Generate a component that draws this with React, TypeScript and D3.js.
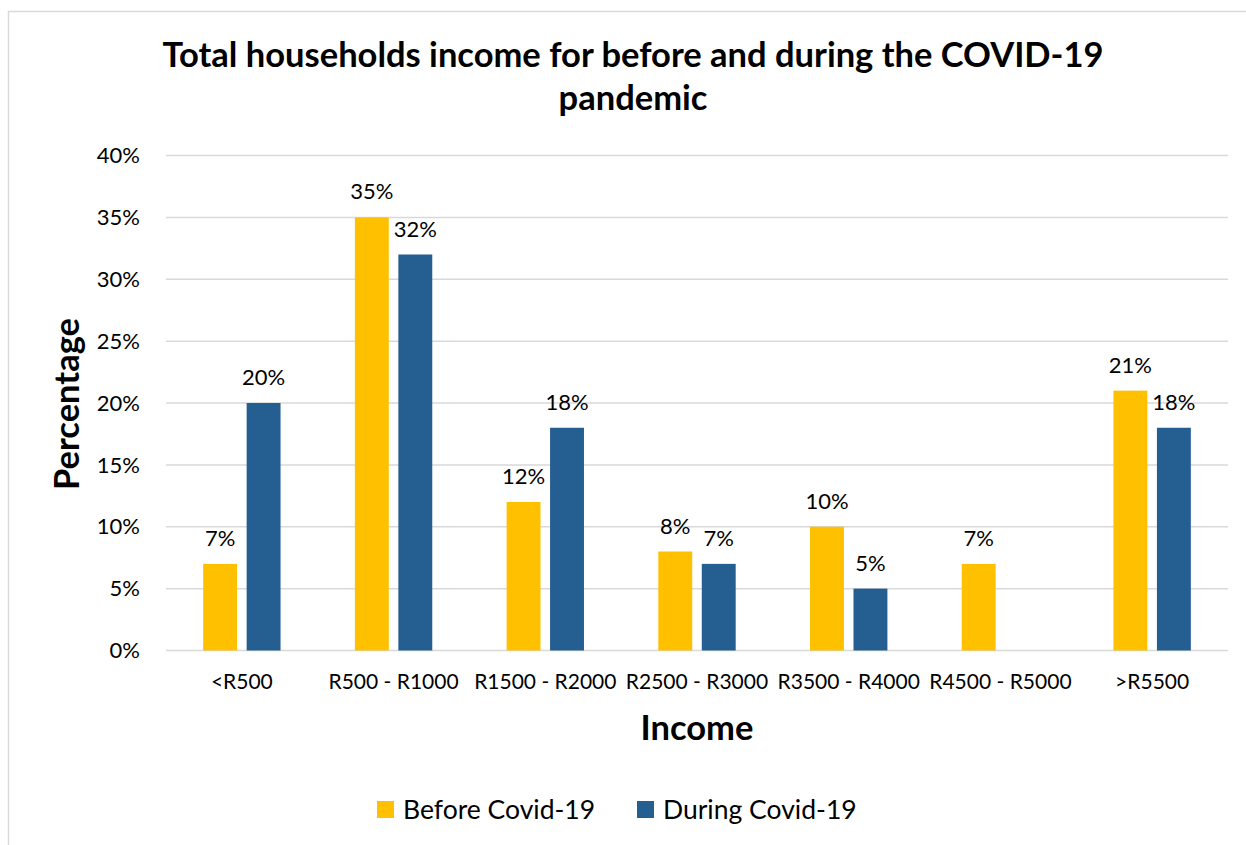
import React from "react";
import * as d3 from "d3";

const categories = ["<R500", "R500 - R1000", "R1500 - R2000", "R2500 - R3000", "R3500 - R4000", "R4500 - R5000", ">R5500"];
const beforeValues: (number | null)[] = [7, 35, 12, 8, 10, 7, 21];
const duringValues: (number | null)[] = [20, 32, 18, 7, 5, null, 18];
const seriesNames = ["Before Covid-19", "During Covid-19"];
const seriesColors = ["#FFC000", "#255E91"];
const yTicks = [0, 5, 10, 15, 20, 25, 30, 35, 40];

const FONT = "Lato, 'Open Sans', sans-serif";

export default function App() {
  const W = 1246, H = 845;
  const x0 = 166, x1 = 1228, yTop = 155.5, yBot = 650.5;
  const x = d3.scaleBand<string>().domain(categories).range([x0, x1]).paddingInner(0.49).paddingOuter(0.245);
  const xi = d3.scaleBand<string>().domain(seriesNames).range([0, x.bandwidth()]).paddingInner(0.22).paddingOuter(0);
  const y = d3.scaleLinear().domain([0, 40]).range([yBot, yTop]);
  const series = [beforeValues, duringValues];

  return (
    <svg width={W} height={H} style={{ position: "absolute", left: 0, top: 0, background: "#fff" }} fontFamily={FONT}>
      <rect x={8.5} y={11.5} width={1260} height={860} fill="#fff" stroke="#d9d9d9" strokeWidth={1.5} />
      <text x={633} y={67} textAnchor="middle" fontSize={34.5} fontWeight={700} fill="#000">
        Total households income for before and during the COVID-19
      </text>
      <text x={633} y={110} textAnchor="middle" fontSize={34.5} fontWeight={700} fill="#000">
        pandemic
      </text>
      {yTicks.map((t) => (
        <g key={t}>
          <line x1={x0} x2={x1} y1={y(t)} y2={y(t)} stroke="#d9d9d9" strokeWidth={1.5} />
          <text x={140} y={y(t)} dy="0.35em" textAnchor="end" fontSize={22} fill="#000">
            {t}%
          </text>
        </g>
      ))}
      {categories.map((c, i) => (
        <g key={c}>
          {series.map((vals, s) => {
            const v = vals[i];
            if (v == null) return null;
            const bx = (x(c) as number) + (xi(seriesNames[s]) as number);
            const bw = xi.bandwidth();
            return (
              <g key={s}>
                <rect x={bx} y={y(v)} width={bw} height={yBot - y(v)} fill={seriesColors[s]} />
                <text x={bx + bw / 2} y={y(v) - 18} textAnchor="middle" fontSize={22} fill="#000">
                  {v}%
                </text>
              </g>
            );
          })}
          <text x={(x(c) as number) + x.bandwidth() / 2} y={689} textAnchor="middle" fontSize={21} fill="#000">
            {c}
          </text>
        </g>
      ))}
      <text x={697} y={740} textAnchor="middle" fontSize={34.5} fontWeight={700} fill="#000">
        Income
      </text>
      <text transform="translate(79,404) rotate(-90)" textAnchor="middle" fontSize={34.5} fontWeight={700} fill="#000">
        Percentage
      </text>
      {seriesNames.map((n, s) => {
        const lx = [377, 637][s];
        return (
          <g key={n}>
            <rect x={lx} y={801} width={17} height={17} fill={seriesColors[s]} />
            <text x={lx + 26} y={819} fontSize={26.5} fill="#000">
              {n}
            </text>
          </g>
        );
      })}
    </svg>
  );
}
